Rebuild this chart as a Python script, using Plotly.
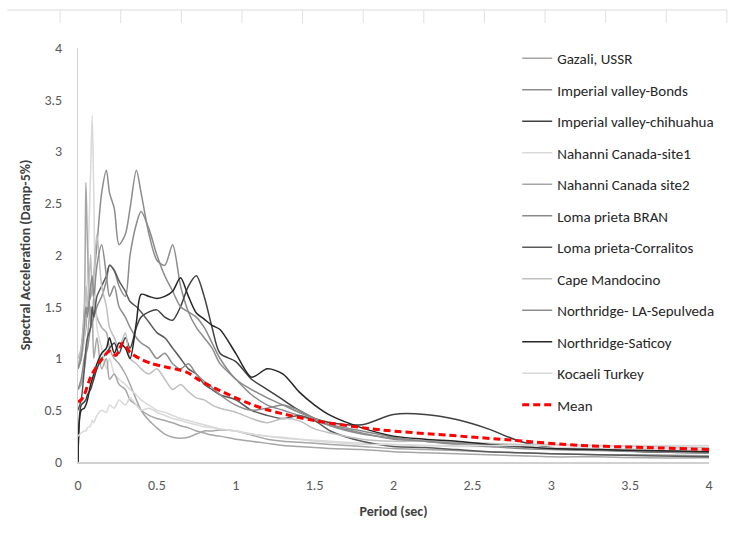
import plotly.graph_objects as go

# Shared period grid (sec) for the individual record spectra
PERIOD = [0.0, 0.02, 0.04, 0.05, 0.06, 0.08, 0.09, 0.1,
          0.12, 0.15, 0.18, 0.2, 0.23, 0.26, 0.3, 0.33, 0.37, 0.4,
          0.45, 0.5, 0.55, 0.6, 0.65, 0.7, 0.75, 0.8, 0.85, 0.9,
          1.0, 1.1, 1.2, 1.3, 1.4, 1.5, 1.6, 1.8,
          2.0, 2.2, 2.4, 2.6, 2.8, 3.0, 3.3, 3.6, 4.0]

# Spectral acceleration (g), 5% damping
GAZALI = [0.70, 0.75, 0.90, 1.00, 1.20, 1.50, 1.30, 1.60,
          1.40, 1.30, 1.25, 1.10, 1.00, 0.95, 0.85, 0.75, 0.60, 0.50,
          0.40, 0.33, 0.27, 0.24, 0.23, 0.24, 0.27, 0.30, 0.30, 0.31,
          0.30, 0.26, 0.22, 0.20, 0.19, 0.18, 0.17, 0.15,
          0.13, 0.12, 0.11, 0.10, 0.09, 0.08, 0.07, 0.07, 0.06]
IMPERIAL_BONDS = [0.90, 1.00, 1.20, 1.30, 1.50, 1.60, 1.70, 1.80,
                  2.10, 2.60, 2.82, 2.60, 2.45, 2.10, 2.20, 2.45, 2.82, 2.60,
                  2.20, 1.95, 1.90, 2.10, 1.70, 1.45, 1.30, 1.20, 1.10, 0.95,
                  0.80, 0.65, 0.55, 0.50, 0.45, 0.40, 0.35, 0.28,
                  0.22, 0.20, 0.18, 0.16, 0.15, 0.13, 0.12, 0.10, 0.10]
IMPERIAL_CHIHUAHUA = [0.00, 0.55, 0.58, 0.60, 0.65, 0.70, 0.75, 0.80,
                      0.90, 1.00, 1.05, 1.10, 1.15, 1.05, 1.20, 1.10, 1.30, 1.40,
                      1.45, 1.47, 1.40, 1.37, 1.50, 1.70, 1.80, 1.60, 1.30, 1.05,
                      0.97, 0.80, 0.70, 0.60, 0.50, 0.42, 0.38, 0.36,
                      0.46, 0.46, 0.41, 0.32, 0.20, 0.14, 0.12, 0.10, 0.09]
NAHANNI_SITE1 = [0.90, 1.00, 1.20, 1.40, 1.80, 2.80, 3.35, 2.60,
                 1.30, 1.10, 0.90, 1.00, 0.85, 0.80, 0.75, 0.70, 0.65, 0.60,
                 0.55, 0.50, 0.48, 0.45, 0.42, 0.40, 0.38, 0.36, 0.34, 0.32,
                 0.30, 0.27, 0.25, 0.23, 0.22, 0.21, 0.20, 0.18,
                 0.17, 0.16, 0.15, 0.15, 0.14, 0.14, 0.13, 0.13, 0.12]
NAHANNI_SITE2 = [0.90, 1.10, 1.50, 2.70, 2.10, 1.30, 1.50, 1.00,
                 1.20, 0.90, 1.00, 0.80, 0.85, 0.75, 0.70, 0.60, 0.55, 0.50,
                 0.45, 0.42, 0.40, 0.38, 0.35, 0.33, 0.30, 0.28, 0.26, 0.25,
                 0.22, 0.20, 0.18, 0.16, 0.15, 0.14, 0.13, 0.12,
                 0.10, 0.09, 0.08, 0.07, 0.06, 0.05, 0.05, 0.04, 0.04]
LOMA_BRAN = [0.70, 0.80, 1.00, 1.05, 1.10, 1.30, 1.35, 1.40,
             1.50, 1.60, 1.75, 1.90, 1.85, 1.70, 1.60, 2.00, 2.30, 2.42,
             2.25, 2.00, 1.80, 1.65, 1.50, 1.45, 1.40, 1.30, 1.15, 1.00,
             0.80, 0.70, 0.62, 0.55, 0.48, 0.42, 0.36, 0.30,
             0.24, 0.20, 0.17, 0.15, 0.13, 0.12, 0.11, 0.10, 0.09]
LOMA_CORRALITOS = [0.50, 0.60, 0.90, 1.10, 1.20, 1.30, 1.50, 1.40,
                   1.60, 1.70, 1.80, 1.90, 1.85, 1.75, 1.65, 1.55, 1.50, 1.45,
                   1.35, 1.25, 1.20, 1.10, 1.00, 0.90, 0.85, 0.75, 0.70, 0.65,
                   0.60, 0.50, 0.45, 0.42, 0.45, 0.40, 0.30, 0.20,
                   0.15, 0.14, 0.12, 0.10, 0.09, 0.08, 0.07, 0.06, 0.05]
CAPE_MANDOCINO = [1.00, 1.10, 1.40, 1.70, 1.50, 2.00, 1.60, 1.80,
                  2.20, 1.70, 1.50, 1.30, 1.20, 1.10, 1.25, 1.00, 0.95, 0.90,
                  0.85, 0.90, 0.80, 0.70, 0.75, 0.68, 0.62, 0.60, 0.55, 0.52,
                  0.48, 0.42, 0.38, 0.42, 0.40, 0.32, 0.28, 0.22,
                  0.20, 0.20, 0.19, 0.18, 0.17, 0.17, 0.16, 0.15, 0.14]
NORTHRIDGE_SEPULVEDA = [0.90, 1.00, 1.30, 1.50, 1.40, 1.70, 1.80, 1.60,
                        1.90, 2.10, 1.80, 1.60, 1.70, 1.50, 1.40, 1.30, 1.20, 1.15,
                        1.10, 1.00, 1.05, 0.95, 0.90, 0.95, 0.85, 0.78, 0.72, 0.65,
                        0.55, 0.50, 0.52, 0.55, 0.50, 0.42, 0.35, 0.27,
                        0.23, 0.20, 0.18, 0.16, 0.15, 0.13, 0.12, 0.11, 0.10]
NORTHRIDGE_SATICOY = [0.00, 0.50, 0.52, 0.55, 0.60, 0.75, 0.80, 0.85,
                      0.95, 1.05, 1.10, 1.20, 1.05, 1.15, 1.10, 1.00, 1.35, 1.62,
                      1.60, 1.58, 1.60, 1.65, 1.78, 1.60, 1.44, 1.38, 1.32, 1.28,
                      1.05, 0.82, 0.90, 0.85, 0.68, 0.55, 0.45, 0.33,
                      0.25, 0.22, 0.20, 0.17, 0.15, 0.13, 0.12, 0.11, 0.10]
KOCAELI = [0.25, 0.28, 0.30, 0.30, 0.33, 0.35, 0.40, 0.38,
           0.45, 0.50, 0.48, 0.55, 0.52, 0.60, 0.55, 0.62, 0.55, 0.50,
           0.52, 0.48, 0.45, 0.42, 0.40, 0.38, 0.36, 0.34, 0.33, 0.32,
           0.30, 0.27, 0.25, 0.24, 0.22, 0.20, 0.19, 0.17,
           0.17, 0.16, 0.16, 0.16, 0.16, 0.16, 0.16, 0.16, 0.16]

# Mean spectrum
MEAN_PERIOD = [0.0, 0.02, 0.04, 0.08, 0.14, 0.2, 0.24, 0.285, 0.33, 0.39,
               0.47, 0.55, 0.64, 0.7, 0.77, 0.9, 1.06, 1.21, 1.5, 1.92,
               2.34, 2.76, 3.18, 3.6, 4.0]
MEAN_SA = [0.58, 0.60, 0.65, 0.82, 0.97, 1.07, 1.03, 1.15, 1.06, 1.00,
           0.95, 0.92, 0.89, 0.86, 0.79, 0.69, 0.58, 0.50, 0.40, 0.31,
           0.26, 0.21, 0.16, 0.14, 0.12]

RECORDS = [
    ("Gazali, USSR", GAZALI, "#a6a6a6"),
    ("Imperial valley-Bonds", IMPERIAL_BONDS, "#8c8c8c"),
    ("Imperial valley-chihuahua", IMPERIAL_CHIHUAHUA, "#404040"),
    ("Nahanni Canada-site1", NAHANNI_SITE1, "#d9d9d9"),
    ("Nahanni Canada site2", NAHANNI_SITE2, "#a6a6a6"),
    ("Loma prieta BRAN", LOMA_BRAN, "#8a8a8a"),
    ("Loma prieta-Corralitos", LOMA_CORRALITOS, "#595959"),
    ("Cape Mandocino", CAPE_MANDOCINO, "#bfbfbf"),
    ("Northridge- LA-Sepulveda", NORTHRIDGE_SEPULVEDA, "#8c8c8c"),
    ("Northridge-Saticoy", NORTHRIDGE_SATICOY, "#262626"),
    ("Kocaeli Turkey", KOCAELI, "#d9d9d9"),
]

FONT = "Carlito, Lato, sans-serif"

fig = go.Figure()
for i, (name, sa, color) in enumerate(RECORDS):
    fig.add_trace(go.Scatter(
        x=PERIOD, y=sa, mode="lines", name=name, legendgroup=f"g{i}",
        line=dict(color=color, width=1.5, shape="spline", smoothing=0.8),
    ))

fig.add_trace(go.Scatter(
    x=MEAN_PERIOD, y=MEAN_SA, mode="lines", name="Mean", legendgroup="mean",
    line=dict(color="#ff0000", width=3, dash="7px,4px", shape="spline", smoothing=0.8),
))

W, H = 731, 546
ML, MR, MT, MB = 78, 18, 48, 84
PW, PH = W - ML - MR, H - MT - MB


def px_x(px):
    return (px - ML) / PW


def px_y(py):
    return (H - MB - py) / PH


# faint sheet grid fragment along the top edge
shapes = [dict(type="line", xref="paper", yref="paper",
               x0=px_x(7), x1=px_x(731), y0=px_y(10), y1=px_y(10),
               line=dict(color="#d9d9d9", width=1))]
for k in range(1, 13):
    xp = 61 * k - 1
    shapes.append(dict(type="line", xref="paper", yref="paper",
                       x0=px_x(xp), x1=px_x(xp), y0=px_y(10), y1=px_y(23),
                       line=dict(color="#e0e0e0", width=1)))

fig.update_layout(
    width=W, height=H,
    margin=dict(l=ML, r=MR, t=MT, b=MB),
    paper_bgcolor="white", plot_bgcolor="white",
    font=dict(family=FONT, size=14, color="#595959"),
    showlegend=True,
    legend=dict(
        x=px_x(520), y=px_y(42), xanchor="left", yanchor="top",
        maxheight=520,
        bgcolor="rgba(0,0,0,0)", tracegroupgap=9,
        font=dict(family=FONT, size=15, color="#262626"),
    ),
    shapes=shapes,
    xaxis=dict(
        range=[0, 4], tickvals=[0, 0.5, 1, 1.5, 2, 2.5, 3, 3.5, 4],
        ticktext=["0", "0.5", "1", "1.5", "2", "2.5", "3", "3.5", "4"],
        showgrid=False, zeroline=False, showline=True,
        linecolor="#d0d0d0", linewidth=2, ticks="",
        ticklabelstandoff=9,
        tickfont=dict(family=FONT, size=14, color="#595959"),
        title=dict(text="<b>Period (sec)</b>", standoff=13,
                   font=dict(family=FONT, size=14, color="#404040")),
    ),
    yaxis=dict(
        range=[0, 4], tickvals=[0, 0.5, 1, 1.5, 2, 2.5, 3, 3.5, 4],
        ticktext=["0", "0.5", "1", "1.5", "2", "2.5", "3", "3.5", "4"],
        showgrid=False, zeroline=False, showline=True,
        linecolor="#d0d0d0", linewidth=1, ticks="",
        ticklabelstandoff=12,
        tickfont=dict(family=FONT, size=14, color="#595959"),
        title=dict(text="<b>Spectral Acceleration (Damp-5%)</b>", standoff=10,
                   font=dict(family=FONT, size=14, color="#404040")),
    ),
)

fig.write_html("out.html")
